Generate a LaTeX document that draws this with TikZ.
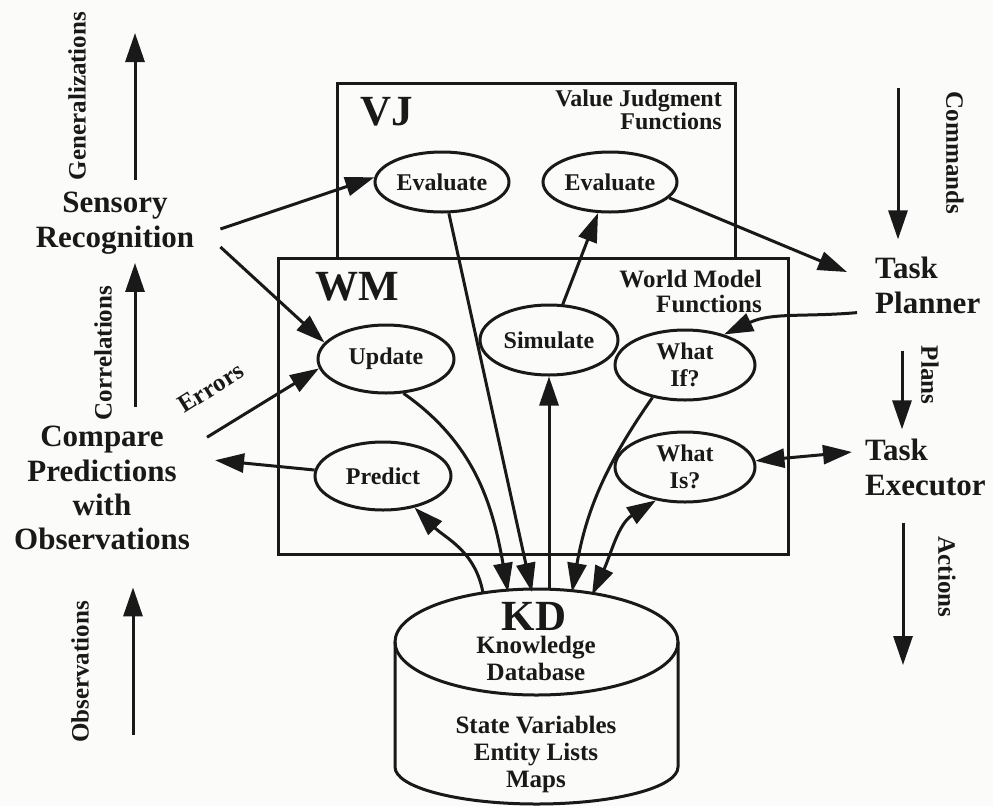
\documentclass[tikz,border=0pt]{standalone}
\usepackage{fontspec}
\setmainfont{Liberation Serif}
\usetikzlibrary{arrows.meta,calc,shapes.geometric}
\definecolor{paper}{RGB}{251,251,249}
\definecolor{ink}{RGB}{25,25,25}
\begin{document}
\begin{tikzpicture}[x=1pt,y=1pt,
  every node/.style={inner sep=0pt, text=ink},
  arr/.style={draw=ink, line width=3pt, -{Triangle[length=29pt,width=19pt]}},
  darr/.style={draw=ink, line width=3pt, {Triangle[length=29pt,width=19pt]}-{Triangle[length=29pt,width=19pt]}},
  fnell/.style={ellipse, draw=ink, line width=3pt, inner sep=0pt, font=\bfseries\fontsize{24}{27.5}\selectfont, align=center},
  boxframe/.style={draw=ink, line width=3pt, rectangle, inner sep=0pt},
  bigtxt/.style={font=\bfseries\fontsize{31}{35}\selectfont, align=center},
  acro/.style={font=\bfseries\fontsize{43}{43}\selectfont},
  lbl/.style={font=\bfseries\fontsize{25}{27}\selectfont}
]
\fill[paper] (0,0) rectangle (993,-806);
\useasboundingbox (0,0) rectangle (993,-806);

% frames
\node[boxframe, minimum width=398pt, minimum height=175pt] (vjbox) at (536,-170.5) {};
\node[boxframe, minimum width=510pt, minimum height=296pt] (wmbox) at (533,-406) {};

\node[acro, anchor=base west] (vj) at (360,-125) {VJ};
\node[acro, anchor=base west] (wm) at (315,-300) {WM};
\node[font=\bfseries\fontsize{24}{20}\selectfont, align=right, anchor=east] (vjlbl) at (722,-110) {Value Judgment\\Functions};
\node[font=\bfseries\fontsize{25}{25}\selectfont, align=right, anchor=east] (wmlbl) at (762,-291) {World Model\\Functions};

% function ellipses
\node[fnell, minimum width=134pt, minimum height=60pt] (ev1) at (442,-182) {Evaluate};
\node[fnell, minimum width=134pt, minimum height=60pt] (ev2) at (610,-182) {Evaluate};
\node[fnell, minimum width=136pt, minimum height=68pt] (upd) at (386,-359) {Update};
\node[fnell, minimum width=138pt, minimum height=70pt] (sim) at (549,-340) {Simulate};
\node[fnell, minimum width=140pt, minimum height=70pt] (wif) at (685,-365) {What\\If?};
\node[fnell, minimum width=136pt, minimum height=68pt] (pre) at (383,-476) {Predict};
\node[fnell, minimum width=140pt, minimum height=70pt] (wis) at (685,-467) {What\\Is?};

% knowledge database cylinder
\draw[draw=ink, line width=3pt] (395,-642) -- (395,-767) arc[start angle=180, end angle=360, x radius=141.5, y radius=37] -- (678,-642);
\draw[draw=ink, line width=3pt] (536.5,-642) ellipse [x radius=141.5, y radius=53];
\coordinate (kdP) at (483,-593);
\coordinate (kdU) at (508,-592);
\coordinate (kdE) at (532,-592);
\coordinate (kdS) at (549,-590);
\coordinate (kdW) at (572,-592);
\coordinate (kdI) at (592,-595);
\node[acro, anchor=base] (kd) at (534,-630) {KD};
\node[lbl, align=center] (kdname) at (536,-658) {Knowledge\\Database};
\node[lbl, align=center] (kdlist) at (536,-754) {State Variables\\Entity Lists\\Maps};

% left column
\node[bigtxt] (sens) at (115,-223.6) {Sensory\\Recognition};
\node[bigtxt, font=\bfseries\fontsize{31}{34.3}\selectfont] (cmp) at (102,-488.3) {Compare\\Predictions\\with\\Observations};
% right column
\node[bigtxt, align=left, anchor=west] (tp) at (875,-285) {Task\\Planner};
\node[bigtxt, align=left, anchor=west] (te) at (865,-467) {Task\\Executor};

% rotated labels
\node[lbl, rotate=90] (lgen) at (77,-96) {Generalizations};
\node[lbl, rotate=90] (lcor) at (103,-353) {Correlations};
\node[lbl, rotate=90] (lobs) at (80,-672) {Observations};
\node[lbl, rotate=-90] (lcmd) at (955,-153) {Commands};
\node[lbl, rotate=-90] (lpl) at (930,-375) {Plans};
\node[lbl, rotate=-90] (lact) at (947,-577) {Actions};
\node[lbl, rotate=32] (lerr) at (211,-388) {Errors};

% vertical flow arrows
\coordinate (genTop) at (135,-33);
\draw[arr, shorten <=12pt] (genTop |- sens.north) -- (genTop);
\coordinate (colL) at (135,0);
\draw[arr, shorten <=19pt, shorten >=8pt] (colL |- cmp.north) -- (colL |- sens.south);
\coordinate (obsBot) at (133,-735);
\draw[arr, shorten >=37pt] (obsBot) -- (obsBot |- cmp.south);
\coordinate (cmdTop) at (898,-88);
\draw[arr, shorten >=17pt] (cmdTop) -- (cmdTop |- tp.north);
\coordinate (plX) at (902,0);
\draw[arr, shorten <=37pt, shorten >=9pt] (plX |- tp.south) -- (plX |- te.north);
\coordinate (actBot) at (903,-665);
\draw[arr, shorten <=27pt] (actBot |- te.south) -- (actBot);

% connectors
\draw[arr] ($(sens.east)+(26,-5.4)$) -- (ev1.176);
\draw[arr] ($(sens.east)+(26,-23.4)$) -- (upd.165);
\draw[arr] ($(cmp.north east)+(17,-11)$) -- (upd.188);
\draw[arr] (pre.175) -- ($(cmp.north east)+(25,-34)$);
\draw[arr] (upd.-63) to[out=-35, in=100] (kdU);
\draw[arr] (ev1) -- (kdE);
\draw[arr] (kdS) -- (sim);
\draw[arr] (sim) -- (ev2);
\draw[arr] (ev2.-15) -- ($(tp.west)+(-28,13)$);
\draw[arr] ($(tp.south west)+(-18,1)$) to[out=185, in=25] (wif.38);
\draw[arr] (wif.225) to[out=235, in=80] (kdW);
\draw[darr] (kdI) to[out=65, in=212] (wis.229);
\draw[arr] (kdP) to[out=100, in=-45] (pre.-45);
\draw[darr] (wis.5) -- ($(te.west)+(-13,15)$);
\end{tikzpicture}
\end{document}
